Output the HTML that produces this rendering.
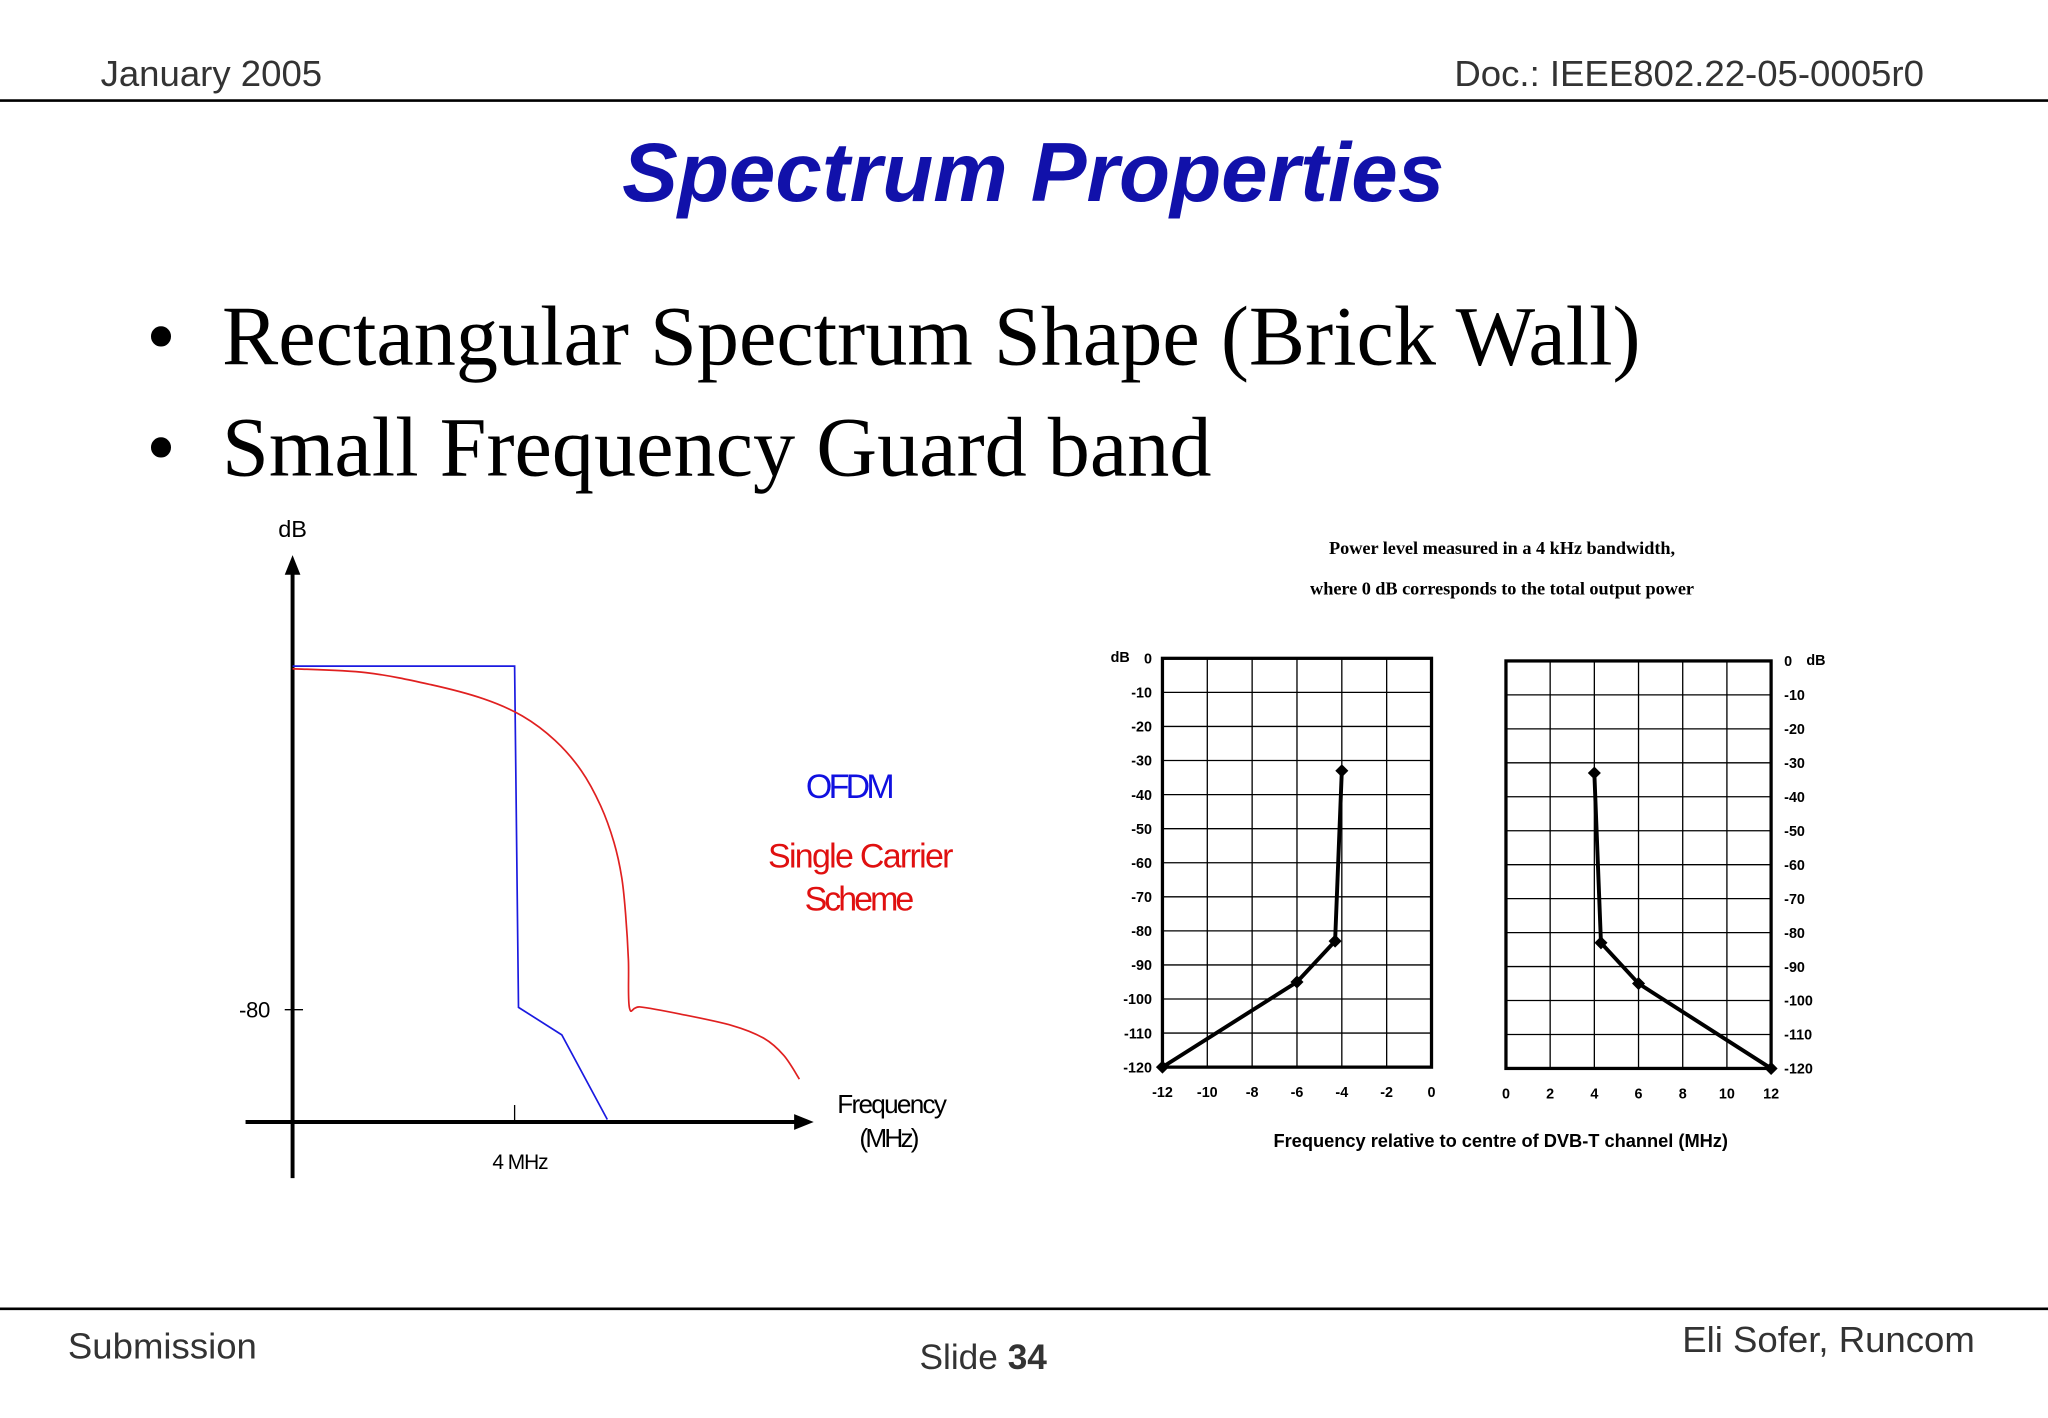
<!DOCTYPE html>
<html><head><meta charset="utf-8"><style>
html,body{margin:0;padding:0;background:#fff}
svg{display:block}
</style></head><body>
<svg id="s" width="2048" height="1418" viewBox="0 0 1568 1085.6" xmlns="http://www.w3.org/2000/svg">
<text x="77" y="66" font-family="Liberation Sans, sans-serif" font-size="28" fill="#333">January 2005</text>
<text x="1473" y="66" text-anchor="end" font-family="Liberation Sans, sans-serif" font-size="28" fill="#333">Doc.: IEEE802.22-05-0005r0</text>
<line x1="0" y1="77" x2="1568" y2="77" stroke="#000" stroke-width="2"/>
<text x="791" y="154" text-anchor="middle" font-family="Liberation Sans, sans-serif" font-size="64" font-weight="bold" font-style="italic" fill="#1111aa">Spectrum Properties</text>
<g font-family="Liberation Serif, serif" font-size="64.5" fill="#000">
<text x="112" y="279">•</text>
<text x="170" y="279">Rectangular Spectrum Shape (Brick Wall)</text>
<text x="112" y="364">•</text>
<text x="170" y="364">Small Frequency Guard band</text>
</g>
<g id="left" font-family="Liberation Sans, sans-serif">
<line x1="224" y1="438" x2="224" y2="902" stroke="#000" stroke-width="3"/>
<polygon points="224,425 218,440 230,440" fill="#000"/>
<line x1="188" y1="859" x2="610" y2="859" stroke="#000" stroke-width="3"/>
<polygon points="623,859 608,853 608,865" fill="#000"/>
<text x="224" y="411" text-anchor="middle" font-size="18" textLength="22">dB</text>
<line x1="218" y1="773" x2="232" y2="773" stroke="#000"/>
<text x="207" y="779" text-anchor="end" font-size="17" textLength="24">-80</text>
<line x1="394" y1="846" x2="394" y2="859" stroke="#000"/>
<text x="377" y="895" font-size="16" textLength="43">4 MHz</text>
<text x="641" y="852" font-size="20" textLength="84">Frequency</text>
<text x="658" y="878" font-size="20" textLength="46">(MHz)</text>
<text x="617" y="611" font-size="26" fill="#1010e0" textLength="68">OFDM</text>
<text x="588" y="664" font-size="26" fill="#e01010" textLength="142">Single Carrier</text>
<text x="616" y="697" font-size="26" fill="#e01010" textLength="84">Scheme</text>
</g>
<g id="right" font-family="Liberation Sans, sans-serif">
<text x="1150" y="424" text-anchor="middle" font-family="Liberation Serif, serif" font-weight="bold" font-size="14" textLength="265">Power level measured in a 4 kHz bandwidth,</text>
<text x="1150" y="455" text-anchor="middle" font-family="Liberation Serif, serif" font-weight="bold" font-size="14" textLength="294">where 0 dB corresponds to the total output power</text>
<text x="1149" y="878" text-anchor="middle" font-weight="bold" font-size="14" textLength="348">Frequency relative to centre of DVB-T channel (MHz)</text>
</g>
<line x1="0" y1="1002" x2="1568" y2="1002" stroke="#000" stroke-width="2"/>
<text x="52" y="1040" font-family="Liberation Sans, sans-serif" font-size="28" fill="#333">Submission</text>
<text x="704" y="1048" font-family="Liberation Sans, sans-serif" font-size="27" fill="#333">Slide <tspan font-weight="bold">34</tspan></text>
<text x="1512" y="1035" text-anchor="end" font-family="Liberation Sans, sans-serif" font-size="28" fill="#333">Eli Sofer, Runcom</text>
</svg>
<script>
// Left chart data (MHz, dB)
const ofdmFreq = [0, 4, 4.07, 4.85, 5.67];
const ofdmDb = [0, 0, -79.4, -85.8, -105.5];
const scFreq = [0, 1.32, 2.49, 3.44, 4.14, 4.73, 5.2, 5.55, 5.79, 5.93, 6.0, 6.05, 6.07, 6.26, 6.96, 7.91, 8.49, 8.85, 9.13];
const scDb = [-0.6, -1.5, -4.3, -7.6, -11.6, -17.3, -24.3, -32.5, -41.0, -49.2, -57.8, -68.4, -79.6, -79.3, -80.9, -83.6, -86.6, -90.6, -96.1];
// DVB-T mask data
const maskLeftFreq = [-12, -6, -4.3, -4];
const maskLeftDb = [-120, -95, -83, -33];
const maskRightFreq = [4, 4.3, 6, 12];
const maskRightDb = [-33, -83, -95, -120];
const yTicks = [0, -10, -20, -30, -40, -50, -60, -70, -80, -90, -100, -110, -120];
const xTicksLeft = [-12, -10, -8, -6, -4, -2, 0];
const xTicksRight = [0, 2, 4, 6, 8, 10, 12];

const NS = 'http://www.w3.org/2000/svg';
function mk(tag, attrs, parent) {
  const e = document.createElementNS(NS, tag);
  for (const k in attrs) e.setAttribute(k, attrs[k]);
  parent.appendChild(e);
  return e;
}
function smoothPath(pts) {
  let d = 'M' + pts[0][0] + ',' + pts[0][1];
  for (let i = 0; i < pts.length - 1; i++) {
    const p0 = pts[Math.max(0, i - 1)], p1 = pts[i], p2 = pts[i + 1], p3 = pts[Math.min(pts.length - 1, i + 2)];
    const c1x = p1[0] + (p2[0] - p0[0]) / 6, c1y = p1[1] + (p2[1] - p0[1]) / 6;
    const c2x = p2[0] - (p3[0] - p1[0]) / 6, c2y = p2[1] - (p3[1] - p1[1]) / 6;
    d += ' C' + c1x + ',' + c1y + ' ' + c2x + ',' + c2y + ' ' + p2[0] + ',' + p2[1];
  }
  return d;
}
const L = document.getElementById('left');
const lx = f => 224 + f * 42.5;
const ly = d => 510 - d * 3.29;
const ofdm = mk('polyline', {points: ofdmFreq.map((f, i) => lx(f) + ',' + ly(ofdmDb[i])).join(' '), fill: 'none', stroke: '#1a1ae0', 'stroke-width': 1.3}, L);


const sc = mk('path', {d: smoothPath(scFreq.map((f, i) => [lx(f), ly(scDb[i])])), fill: 'none', stroke: '#e02020', 'stroke-width': 1.3}, L);



const R = document.getElementById('right');
function panel(x0, x1, fmin, fmax, top, bot, ticks, fr, db, side, name) {
  const sx = f => x0 + (f - fmin) / (fmax - fmin) * (x1 - x0);
  const sy = d => top + (0 - d) / 120 * (bot - top);
  const g = mk('g', {}, R);
  
  
  ticks.forEach(t => {
    const l = mk('line', {x1: sx(t), x2: sx(t), y1: top, y2: bot, stroke: '#000', 'stroke-width': 1}, g);
    
    
    const tx = mk('text', {x: sx(t), y: bot + 23, 'text-anchor': 'middle', 'font-size': 11, 'font-weight': 'bold'}, g);
    tx.textContent = t;
    
    
  });
  yTicks.forEach(t => {
    const l = mk('line', {x1: x0, x2: x1, y1: sy(t), y2: sy(t), stroke: '#000', 'stroke-width': 1}, g);
    
    
    const tx = mk('text', {x: side === 'l' ? x0 - 8 : x1 + 10, y: sy(t) + 4, 'text-anchor': side === 'l' ? 'end' : 'start', 'font-size': 11, 'font-weight': 'bold'}, g);
    tx.textContent = t;
    
    
  });
  const b = mk('rect', {x: x0, y: top, width: x1 - x0, height: bot - top, fill: 'none', stroke: '#000', 'stroke-width': 2.5}, g);
  
  
  const u = mk('text', {x: side === 'l' ? x0 - 25 : x1 + 27, y: top + 3, 'text-anchor': side === 'l' ? 'end' : 'start', 'font-size': 11, 'font-weight': 'bold'}, g);
  u.textContent = 'dB';
  
  
  const pl = mk('polyline', {points: fr.map((f, i) => sx(f) + ',' + sy(db[i])).join(' '), fill: 'none', stroke: '#000', 'stroke-width': 3}, g);
  
  
  fr.forEach((f, i) => {
    const cx = sx(f), cy = sy(db[i]);
    const m = mk('polygon', {points: `${cx},${cy-5} ${cx+5},${cy} ${cx},${cy+5} ${cx-5},${cy}`, fill: '#000'}, g);
    
    
  });
}
panel(890, 1096, -12, 0, 504, 817, xTicksLeft, maskLeftFreq, maskLeftDb, 'l', 'mask-panel-lower');
panel(1153, 1356, 0, 12, 506, 818, xTicksRight, maskRightFreq, maskRightDb, 'r', 'mask-panel-upper');
</script>
</body></html>
